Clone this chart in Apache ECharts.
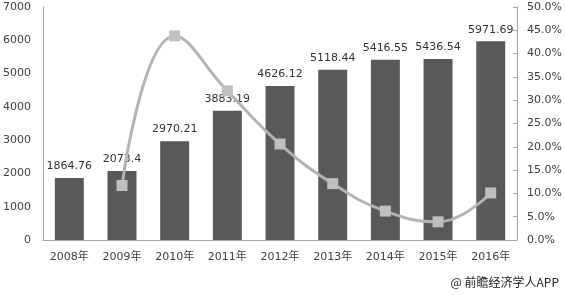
<!DOCTYPE html>
<html><head><meta charset="utf-8">
<script src="https://cdn.jsdelivr.net/npm/echarts@6/dist/echarts.min.js"></script>
<style>html,body{margin:0;padding:0;background:#fff}#c{width:565px;height:295px}</style>
</head><body><div id="c"></div>
<script>
var categories = ['2008年','2009年','2010年','2011年','2012年','2013年','2014年','2015年','2016年'];
var sales = [1864.76, 2073.4, 2970.21, 3883.19, 4626.12, 5118.44, 5416.55, 5436.54, 5971.69];
var growth = [null, 11.7, 43.8, 32.0, 20.6, 12.1, 6.2, 3.9, 10.1];
var leftTicks = [0, 7000, 1000];
var rightTicks = [0, 50, 5];

var chart = echarts.init(document.getElementById('c'));
var font = 'Verdana, "DejaVu Sans", "Noto Sans CJK SC", sans-serif';
chart.setOption({
  animation: false,
  textStyle: {fontFamily: font},
  grid: {left: 40, right: 46, top: 7, bottom: 55},
  xAxis: {
    type: 'category', data: categories,
    axisLine: {lineStyle: {color: '#a6a6a6'}},
    axisTick: {show: false},
    axisLabel: {color: '#404040', fontSize: 11, margin: 12, fontFamily: font}
  },
  yAxis: [{
    type: 'value', min: leftTicks[0], max: leftTicks[1], interval: leftTicks[2],
    axisLine: {show: true, lineStyle: {color: '#a6a6a6'}},
    axisTick: {show: false},
    splitLine: {show: false},
    axisLabel: {color: '#404040', fontSize: 11, margin: 12, fontFamily: font,
      formatter: function(v){ return String(v); }}
  }, {
    type: 'value', min: rightTicks[0], max: rightTicks[1], interval: rightTicks[2],
    position: 'right',
    axisLine: {show: true, lineStyle: {color: '#a6a6a6'}},
    axisTick: {show: true, inside: true, length: 4, lineStyle: {color: '#a6a6a6'}},
    splitLine: {show: false},
    axisLabel: {color: '#404040', fontSize: 11, margin: 10, fontFamily: font,
      formatter: function(v){ return v.toFixed(1) + '%'; }}
  }],
  series: [{
    type: 'bar', data: sales, barWidth: '55%',
    itemStyle: {color: '#595959'},
    label: {show: true, position: 'top', distance: 6, color: '#333', fontSize: 11, fontFamily: font}
  }, {
    type: 'line', yAxisIndex: 1, data: growth, smooth: 0.45,
    symbol: 'rect', symbolSize: 11,
    lineStyle: {color: '#b3b3b3', width: 3},
    itemStyle: {color: '#bfbfbf'}
  }],
  graphic: [{
    type: 'text', right: 6, top: 276,
    style: {text: '@ 前瞻经济学人APP', fill: '#222', fontSize: 12, fontFamily: '"Noto Sans CJK SC", sans-serif'}
  }]
});
</script></body></html>
